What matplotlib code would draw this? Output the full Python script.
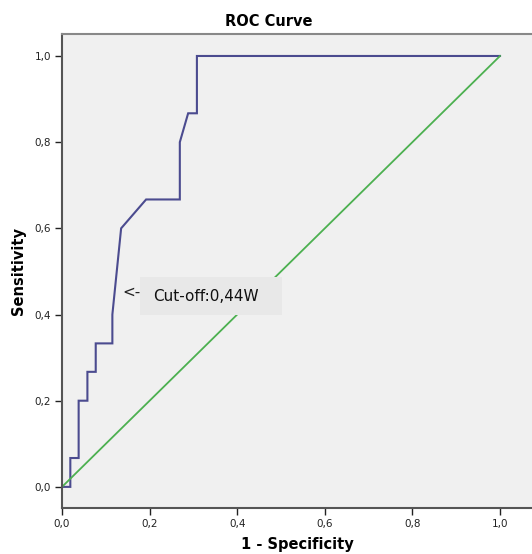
import matplotlib
matplotlib.use("Agg")
import matplotlib.pyplot as plt
from matplotlib.ticker import FuncFormatter
from matplotlib.patches import Rectangle

# ROC curve (1 - specificity, sensitivity)
fpr = [0.0, 0.019, 0.019, 0.038, 0.038, 0.058, 0.058, 0.077, 0.077, 0.115,
       0.115, 0.135, 0.192, 0.269, 0.269, 0.288, 0.308, 0.308, 1.0]
tpr = [0.0, 0.0, 0.067, 0.067, 0.2, 0.2, 0.267, 0.267, 0.333, 0.333,
       0.4, 0.6, 0.667, 0.667, 0.8, 0.867, 0.867, 1.0, 1.0]
ref_x = [0.0, 1.0]
ref_y = [0.0, 1.0]
ticks = [0.0, 0.2, 0.4, 0.6, 0.8, 1.0]
cutoff_label = "Cut-off:0,44W"

W, H = 532, 554
fig = plt.figure(figsize=(W / 100, H / 100), dpi=100)
ax = fig.add_axes([62 / W, 46 / H, 1 - 62 / W, 474 / H])
ax.set_facecolor("#f0f0f0")

ax.plot(fpr, tpr, color="#4b4b8f", lw=1.5, solid_joinstyle="miter")
ax.plot(ref_x, ref_y, color="#4cb050", lw=1.3)

ax.set_xlim(0, (W - 62) / 438)
ax.set_ylim(-0.049, 1.051)
ax.set_xticks(ticks)
ax.set_yticks(ticks)
fmt = FuncFormatter(lambda v, p: ("%.1f" % v).replace(".", ","))
ax.xaxis.set_major_formatter(fmt)
ax.yaxis.set_major_formatter(fmt)
ax.tick_params(direction="out", length=5, width=1, labelsize=7.5,
               colors="#222222", pad=3)

ax.spines["right"].set_visible(False)
ax.spines["top"].set_color("#888888")
ax.spines["top"].set_linewidth(1.5)
for s in ["left", "bottom"]:
    ax.spines[s].set_color("#555555")
    ax.spines[s].set_linewidth(1.5)

ax.set_xlabel("1 - Specificity", fontsize=10.5, fontweight="bold", labelpad=6)
ax.set_ylabel("Sensitivity", fontsize=10.5, fontweight="bold", labelpad=6)
fig.text(269 / W, 1 - 21 / H, "ROC Curve", ha="center", va="center",
         fontsize=10.5, fontweight="bold")

# annotation box over the reference line, with the cut-off label
ax.add_patch(Rectangle((0.178, 0.399), 0.324, 0.088, fc="#e8e8e8", ec="none",
                       zorder=2.5))
ax.text(0.137, 0.452, "<-", fontsize=11, ha="left", va="center",
        color="#222222", zorder=3)
ax.text(0.208, 0.441, cutoff_label, fontsize=11, ha="left", va="center",
        color="#111111", zorder=3)

fig.savefig("out.png", dpi=100)
